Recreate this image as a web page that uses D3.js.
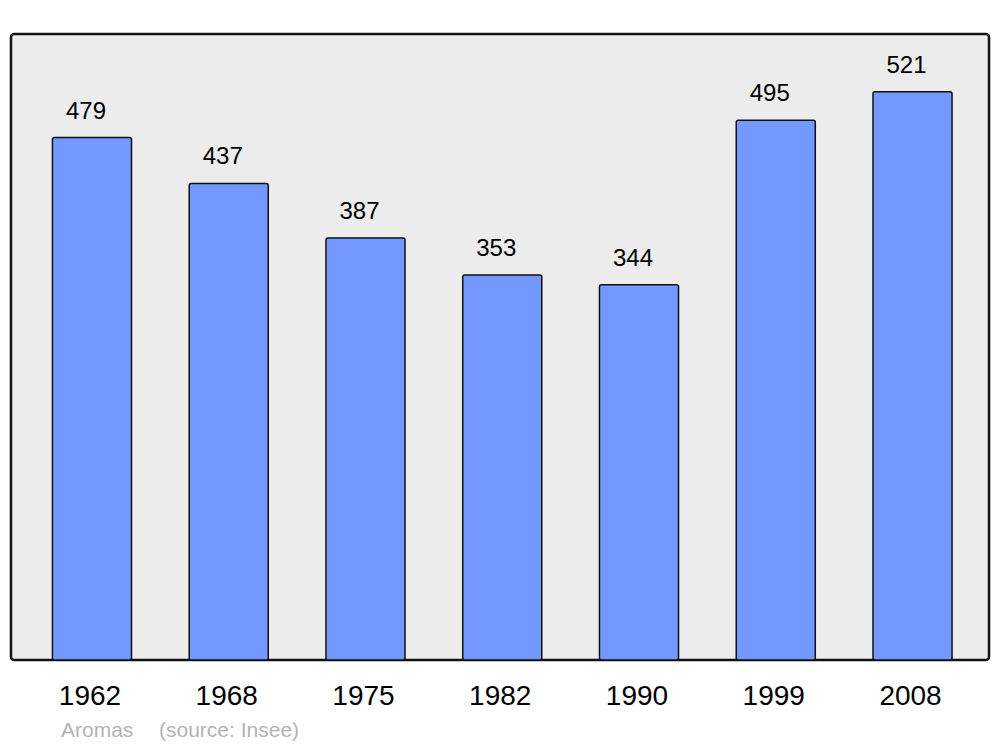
<!DOCTYPE html>
<html>
<head>
<meta charset="utf-8">
<script src="https://cdn.jsdelivr.net/npm/d3@7"></script>
<style>
  body { margin: 0; background: #fff; }
  svg text { font-family: "Liberation Sans", Arial, sans-serif; }
</style>
</head>
<body>
<div id="chart"></div>
<script>
// population by census year
const years = ["1962", "1968", "1975", "1982", "1990", "1999", "2008"];
const population = [479, 437, 387, 353, 344, 495, 521];
const commune = "Aromas";
const source = "(source: Insee)";

const width = 1000, height = 747;
const panel = {left: 11, top: 34, right: 989, bottom: 660};

const svg = d3.select("#chart").append("svg")
    .attr("width", width)
    .attr("height", height);

// background panel
svg.append("rect")
    .attr("x", panel.left)
    .attr("y", panel.top)
    .attr("width", panel.right - panel.left)
    .attr("height", panel.bottom - panel.top)
    .attr("rx", 3)
    .attr("fill", "#ececec")
    .attr("stroke", "#111")
    .attr("stroke-width", 2.5);

// scales
const x = d3.scaleBand()
    .domain(years)
    .range([23.6, 980.9])
    .paddingInner(0.422)
    .paddingOuter(0.211);

const y = d3.scaleLinear()
    .domain([0, 574])
    .range([panel.bottom, panel.top]);

const data = years.map((d, i) => ({year: d, value: population[i]}));

// bars
svg.selectAll(".bar")
    .data(data)
    .enter()
    .append("rect")
    .attr("class", "bar")
    .attr("x", d => x(d.year))
    .attr("y", d => y(d.value))
    .attr("width", x.bandwidth())
    .attr("height", d => y(0) - y(d.value))
    .attr("rx", 2)
    .attr("fill", "#7398ff")
    .attr("stroke", "#111")
    .attr("stroke-width", 1.5);

// value labels
svg.selectAll(".value-label")
    .data(data)
    .enter()
    .append("text")
    .attr("class", "value-label")
    .attr("x", d => x(d.year) + x.bandwidth() / 2 - 6)
    .attr("y", d => y(d.value) - 19)
    .attr("text-anchor", "middle")
    .attr("font-size", 24)
    .attr("fill", "#000")
    .text(d => d.value);

// x axis labels
const xAxis = d3.axisBottom(x).tickSize(0).tickPadding(0);
const axisG = svg.append("g")
    .attr("class", "x-axis")
    .attr("transform", "translate(-2," + panel.bottom + ")")
    .call(xAxis);
axisG.select(".domain").remove();
axisG.selectAll("text")
    .attr("dy", null)
    .attr("y", 45)
    .attr("font-size", 28)
    .attr("font-family", "Liberation Sans, Arial, sans-serif")
    .attr("fill", "#000");

// footer
svg.append("text")
    .attr("x", 61)
    .attr("y", 737)
    .attr("font-size", 21)
    .attr("fill", "#b3b3b3")
    .text(commune);
svg.append("text")
    .attr("x", 159)
    .attr("y", 737)
    .attr("font-size", 21)
    .attr("fill", "#b3b3b3")
    .text(source);
</script>
</body>
</html>
